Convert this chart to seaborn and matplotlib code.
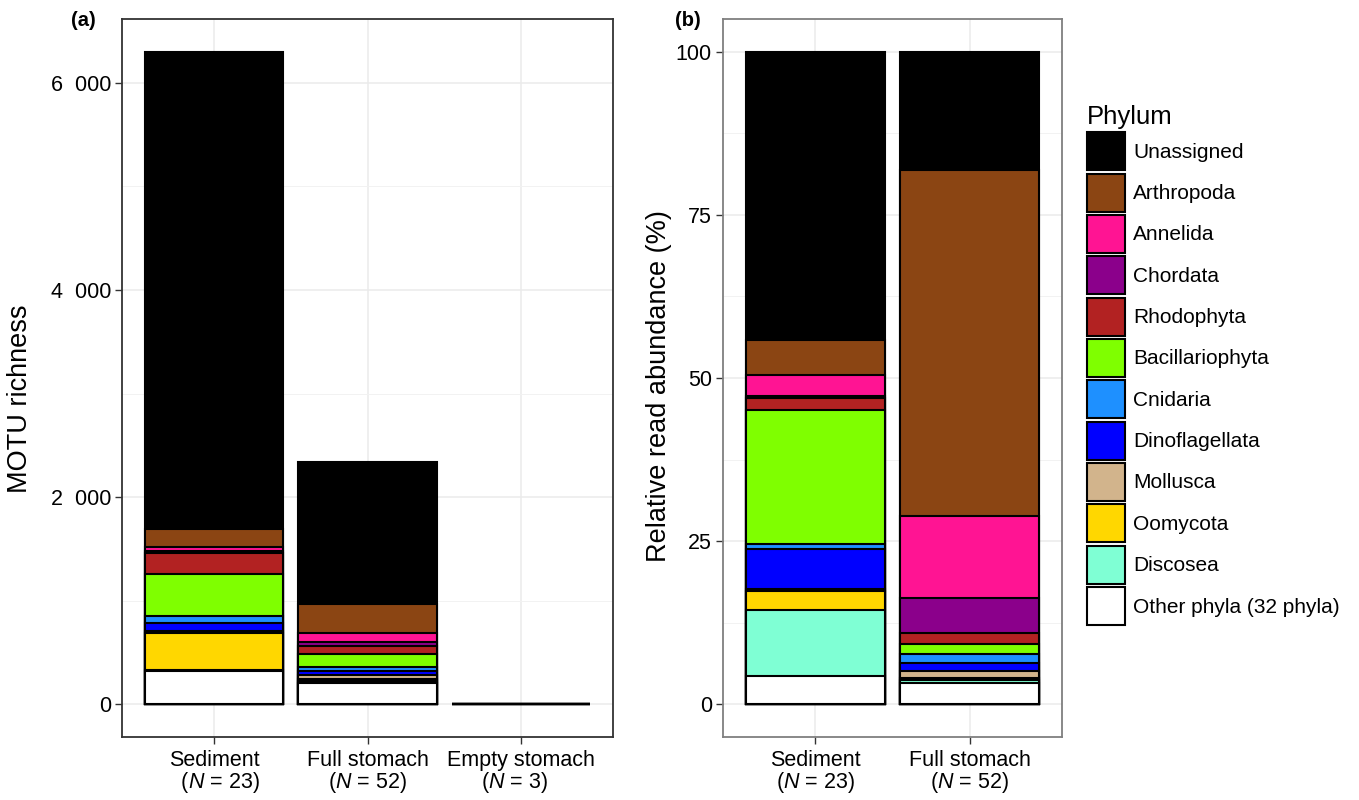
import numpy as np
import matplotlib
matplotlib.use("Agg")
import matplotlib.pyplot as plt
import seaborn as sns
from matplotlib.patches import Patch
from matplotlib.ticker import MultipleLocator

# phyla, top of stack first (same order as the legend)
phyla = ["Unassigned", "Arthropoda", "Annelida", "Chordata", "Rhodophyta",
         "Bacillariophyta", "Cnidaria", "Dinoflagellata", "Mollusca",
         "Oomycota", "Discosea", "Other"]
legend_labels = phyla[:-1] + ["Other phyla (32 phyla)"]
colors = ["#000000", "#8B4513", "#FF1493", "#8B008B", "#B22222", "#7FFF00",
          "#1E90FF", "#0000FF", "#D2B48C", "#FFD700", "#7FFFD4", "#FFFFFF"]

# (a) MOTU richness
groups_a = ["Sediment\n  ($\\mathit{N}$ = 23)",
            "Full stomach\n($\\mathit{N}$ = 52)",
            "Empty stomach\n($\\mathit{N}$ = 3)   "]
richness_sediment = [4612, 171, 34, 20, 202, 409, 64, 78, 25, 352, 12, 321]
richness_full = [1374, 285, 80, 43, 80, 120, 38, 45, 30, 25, 15, 209]
richness_empty = [5, 1, 0, 0, 0, 0, 0, 0, 0, 0, 0, 2]
yticks_a = [0, 2000, 4000, 6000]
yticklabels_a = ["0", "2  000", "4  000", "6  000"]

# (b) relative read abundance (%)
groups_b = ["Sediment\n($\\mathit{N}$ = 23)",
            "Full stomach\n($\\mathit{N}$ = 52)"]
abund_sediment = [44.2, 5.3, 3.3, 0.2, 1.9, 20.5, 0.8, 6.2, 0.25, 2.85, 10.2, 4.3]
abund_full = [18.2, 53.0, 12.45, 5.35, 1.8, 1.55, 1.25, 1.3, 1.0, 0.4, 0.4, 3.3]
yticks_b = [0, 25, 50, 75, 100]

plt.rcParams["font.family"] = ["Liberation Sans", "DejaVu Sans"]
plt.rcParams["mathtext.fontset"] = "custom"
plt.rcParams["mathtext.rm"] = "Liberation Sans"
plt.rcParams["mathtext.it"] = "Liberation Sans:italic"


def stacked(ax, groups, series):
    vals = np.array(series, dtype=float)
    # top of each segment = sum of it and everything below it
    tops = np.cumsum(vals[:, ::-1], axis=1)[:, ::-1]
    for i, col in enumerate(colors):
        sns.barplot(x=groups, y=tops[:, i], color=col, saturation=1,
                    width=0.9, edgecolor="black", linewidth=1.5,
                    errorbar=None, ax=ax)


def style(ax, border, minor):
    ax.set_facecolor("white")
    ax.set_axisbelow(True)
    ax.yaxis.set_minor_locator(MultipleLocator(minor))
    ax.grid(which="major", color="#EBEBEB", lw=1.1)
    ax.grid(which="minor", axis="y", color="#F2F2F2", lw=0.7)
    for s in ax.spines.values():
        s.set_color(border)
        s.set_linewidth(1.3)
    ax.tick_params(which="major", length=5, width=1, color="#333333",
                   labelsize=15.5, labelcolor="black")
    ax.tick_params(axis="x", pad=4.5)
    ax.tick_params(axis="y", pad=3)
    ax.tick_params(which="minor", length=0)
    ax.set_xlim(-0.6, len(ax.get_xticks()) - 0.4)
    ax.set_xlabel("")
    for lbl in ax.get_xticklabels():
        lbl.set_linespacing(0.95)


fig = plt.figure(figsize=(13.59, 8), dpi=100)
ax1 = fig.add_axes([122 / 1359, 1 - 737 / 800, 491 / 1359, 718 / 800])
ax2 = fig.add_axes([723 / 1359, 1 - 737 / 800, 339 / 1359, 718 / 800])

stacked(ax1, groups_a, [richness_sediment, richness_full, richness_empty])
stacked(ax2, groups_b, [abund_sediment, abund_full])

style(ax1, "#333333", 1000)
ax1.set_ylim(-315, 6615)
ax1.set_yticks(yticks_a)
ax1.set_yticklabels(yticklabels_a)
ax1.set_ylabel("MOTU richness", fontsize=19.5)
ax1.yaxis.set_label_coords(-0.181, 0.471)

style(ax2, "#7F7F7F", 12.5)
ax2.set_ylim(-5, 105)
ax2.set_yticks(yticks_b)
ax2.set_ylabel("Relative read abundance (%)", fontsize=19.5)
ax2.yaxis.set_label_coords(-0.150, 0.489)

fig.text(83 / 1359, 1 - 20 / 800, "(a)", fontsize=14.5, weight="bold",
         ha="center", va="center")
fig.text(688 / 1359, 1 - 20 / 800, "(b)", fontsize=14.5, weight="bold",
         ha="center", va="center")

handles = [Patch(facecolor=c, edgecolor="black", linewidth=1.5) for c in colors]
fig.legend(handles, legend_labels, loc="upper left",
           bbox_to_anchor=(1087 / 1359, 1 - 105 / 800), frameon=False,
           title="Phylum", title_fontsize=18.5, fontsize=15,
           handlelength=1.82, handleheight=2.43, labelspacing=0.16,
           handletextpad=0.4, borderpad=0, borderaxespad=0,
           alignment="left")

fig.savefig("out.png", dpi=100)
